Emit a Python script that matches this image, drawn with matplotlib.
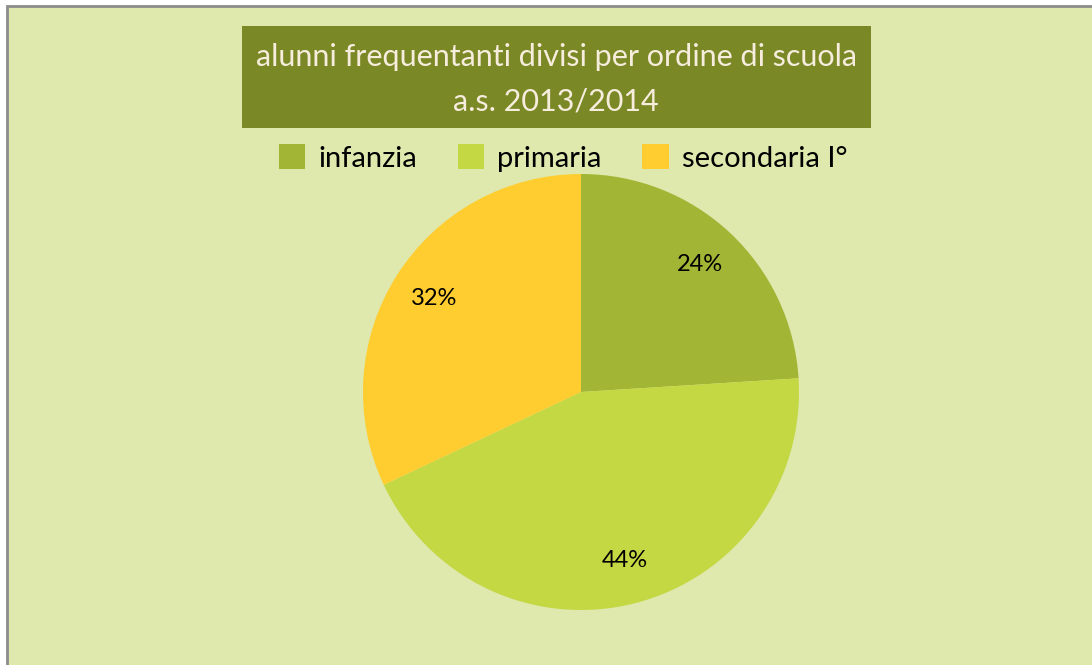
import matplotlib
matplotlib.use("Agg")
import matplotlib.pyplot as plt
from matplotlib.patches import Rectangle, Patch

# data
labels = ["infanzia", "primaria", "secondaria I°"]
shares = [24, 44, 32]
colors = ["#A3B535", "#C4D843", "#FFCD2F"]
title_lines = ["alunni frequentanti divisi per ordine di scuola", "a.s. 2013/2014"]

W, H = 1092, 665
fig = plt.figure(figsize=(W / 100, H / 100), dpi=100, facecolor="white")

# chart area with gray border
fig.patches.append(Rectangle((7 / W, -0.01), 1.02, (H - 6) / H + 0.01, transform=fig.transFigure,
                             facecolor="#DFE8AD", edgecolor="#8C8C8C", lw=2, zorder=-2))

# title box
fig.patches.append(Rectangle((242 / W, 1 - 128 / H), (871 - 242) / W, (128 - 26) / H,
                             transform=fig.transFigure, facecolor="#7A8826", edgecolor="none", zorder=-1))
fig.text(556 / W, 1 - 57 / H, title_lines[0], ha="center", va="center",
         color="#F6EDDD", fontsize=22, family="Lato", zorder=3)
fig.text(556 / W, 1 - 101 / H, title_lines[1], ha="center", va="center",
         color="#F6EDDD", fontsize=22, family="Lato", zorder=3)

# pie
cx, cy, r = 581, 392, 218
ax = fig.add_axes([(cx - r) / W, (H - cy - r) / H, 2 * r / W, 2 * r / H])
ax.set_zorder(2)
ax.set_facecolor("none")
wedges, _, autotexts = ax.pie(shares, colors=colors, startangle=90, counterclock=False,
                              autopct="%d%%", pctdistance=0.8, radius=1,
                              textprops=dict(fontsize=17, color="black", family="Lato"))
ax.set_xlim(-1, 1)
ax.set_ylim(-1, 1)
ax.set_aspect("equal")
ax.axis("off")

handles = [Patch(facecolor=c, edgecolor="none") for c in colors]
leg = fig.legend(handles, labels, loc="center", bbox_to_anchor=(563 / W, 1 - 158 / H), ncol=3,
                 frameon=False, prop=dict(family="Lato", size=21), handlelength=0.9, handleheight=0.9,
                 handletextpad=0.45, columnspacing=1.4)
leg.set_zorder(3)

fig.savefig("out.png", dpi=100, facecolor="white")
